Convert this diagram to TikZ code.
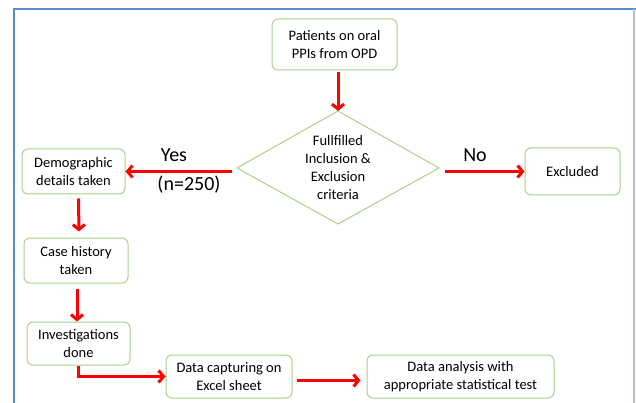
\documentclass[tikz,border=0pt]{standalone}
\usepackage{fontspec}
\setmainfont{Carlito}
\usepackage{xcolor}
\usetikzlibrary{arrows.meta,calc}

\definecolor{boxgreen}{HTML}{A9D18E}
\definecolor{framblue}{HTML}{5B8BC9}
\definecolor{framgray}{HTML}{B4C0CF}

\tikzset{
  stepbox/.style={draw=boxgreen,line width=1pt,rounded corners=6pt,align=center,
    inner sep=0pt,font=\fontsize{14.5}{18}\selectfont},
  redarr/.style={draw=red,line width=3pt,-{Straight Barb[length=5pt,width=12pt]}},
  biglabel/.style={inner sep=0pt,font=\fontsize{20}{24}\selectfont}
}

\begin{document}
\begin{tikzpicture}[x=1pt,y=-1pt]
\useasboundingbox (0,0) rectangle (636,403);
% frame
\draw[framblue,line width=2pt] (14,403) -- (14,9) -- (636,9);
\draw[framgray,line width=1.5pt] (634,9) -- (634,403);

% boxes
\node[stepbox,minimum width=125pt,minimum height=51pt] (pat) at (334.5,44.5) {Patients on oral\\PPIs from OPD};
\node[stepbox,minimum width=103pt,minimum height=45pt] (demo) at (73.5,171.5) {Demographic\\details taken};
\node[stepbox,minimum width=95pt,minimum height=47pt] (excl) at (572.5,171.5) {Excluded};
\node[stepbox,minimum width=104pt,minimum height=45pt] (hist) at (76,260.5) {Case history\\taken};
\node[stepbox,minimum width=103pt,minimum height=43pt] (inv) at (78.5,343.5) {Investigations\\done};
\node[stepbox,minimum width=126pt,minimum height=43pt] (cap) at (229,376.5) {Data capturing on\\Excel sheet};
\node[stepbox,minimum width=187pt,minimum height=43pt] (anl) at (460.5,376.5) {Data analysis with\\appropriate statistical test};

% decision
\coordinate (critT) at (338,111);
\coordinate (critL) at (237,168);
\coordinate (critR) at (439,168);
\coordinate (critB) at (338,224);
\draw[boxgreen,line width=1pt] (critT) -- (critR) -- (critB) -- (critL) -- cycle;
\node[align=center,inner sep=0pt,font=\fontsize{14.5}{18}\selectfont] (crit) at (338,168)
  {Fullfilled\\Inclusion \&\\Exclusion\\criteria};

% labels
\node[biglabel] (yes) at (174,155) {Yes};
\node[biglabel] (nn) at (189,185) {(n=250)};
\node[biglabel] (no) at (475,155) {No};

% arrows
\draw[redarr,shorten <=2pt] (pat.south -| critT) -- (critT);
\draw[redarr,shorten <=5pt] (critL |- demo.east) -- (demo.east);
\draw[redarr,shorten <=6pt] (critR |- excl.west) -- (excl.west);
\draw[redarr,shorten <=4pt,shorten >=6pt] ($(demo.south)+(5,0)$) -- ($(hist.north)+(3,0)$);
\draw[redarr,shorten <=5pt] ($(hist.south)+(1,0)$) -- ($(inv.north)+(-1.5,0)$);
\draw[redarr] (inv.south) |- (cap.west);
\draw[redarr,shorten <=4pt,shorten >=6pt] ($(cap.east)+(0,4)$) -- ($(anl.west)+(0,4)$);
\end{tikzpicture}
\end{document}
